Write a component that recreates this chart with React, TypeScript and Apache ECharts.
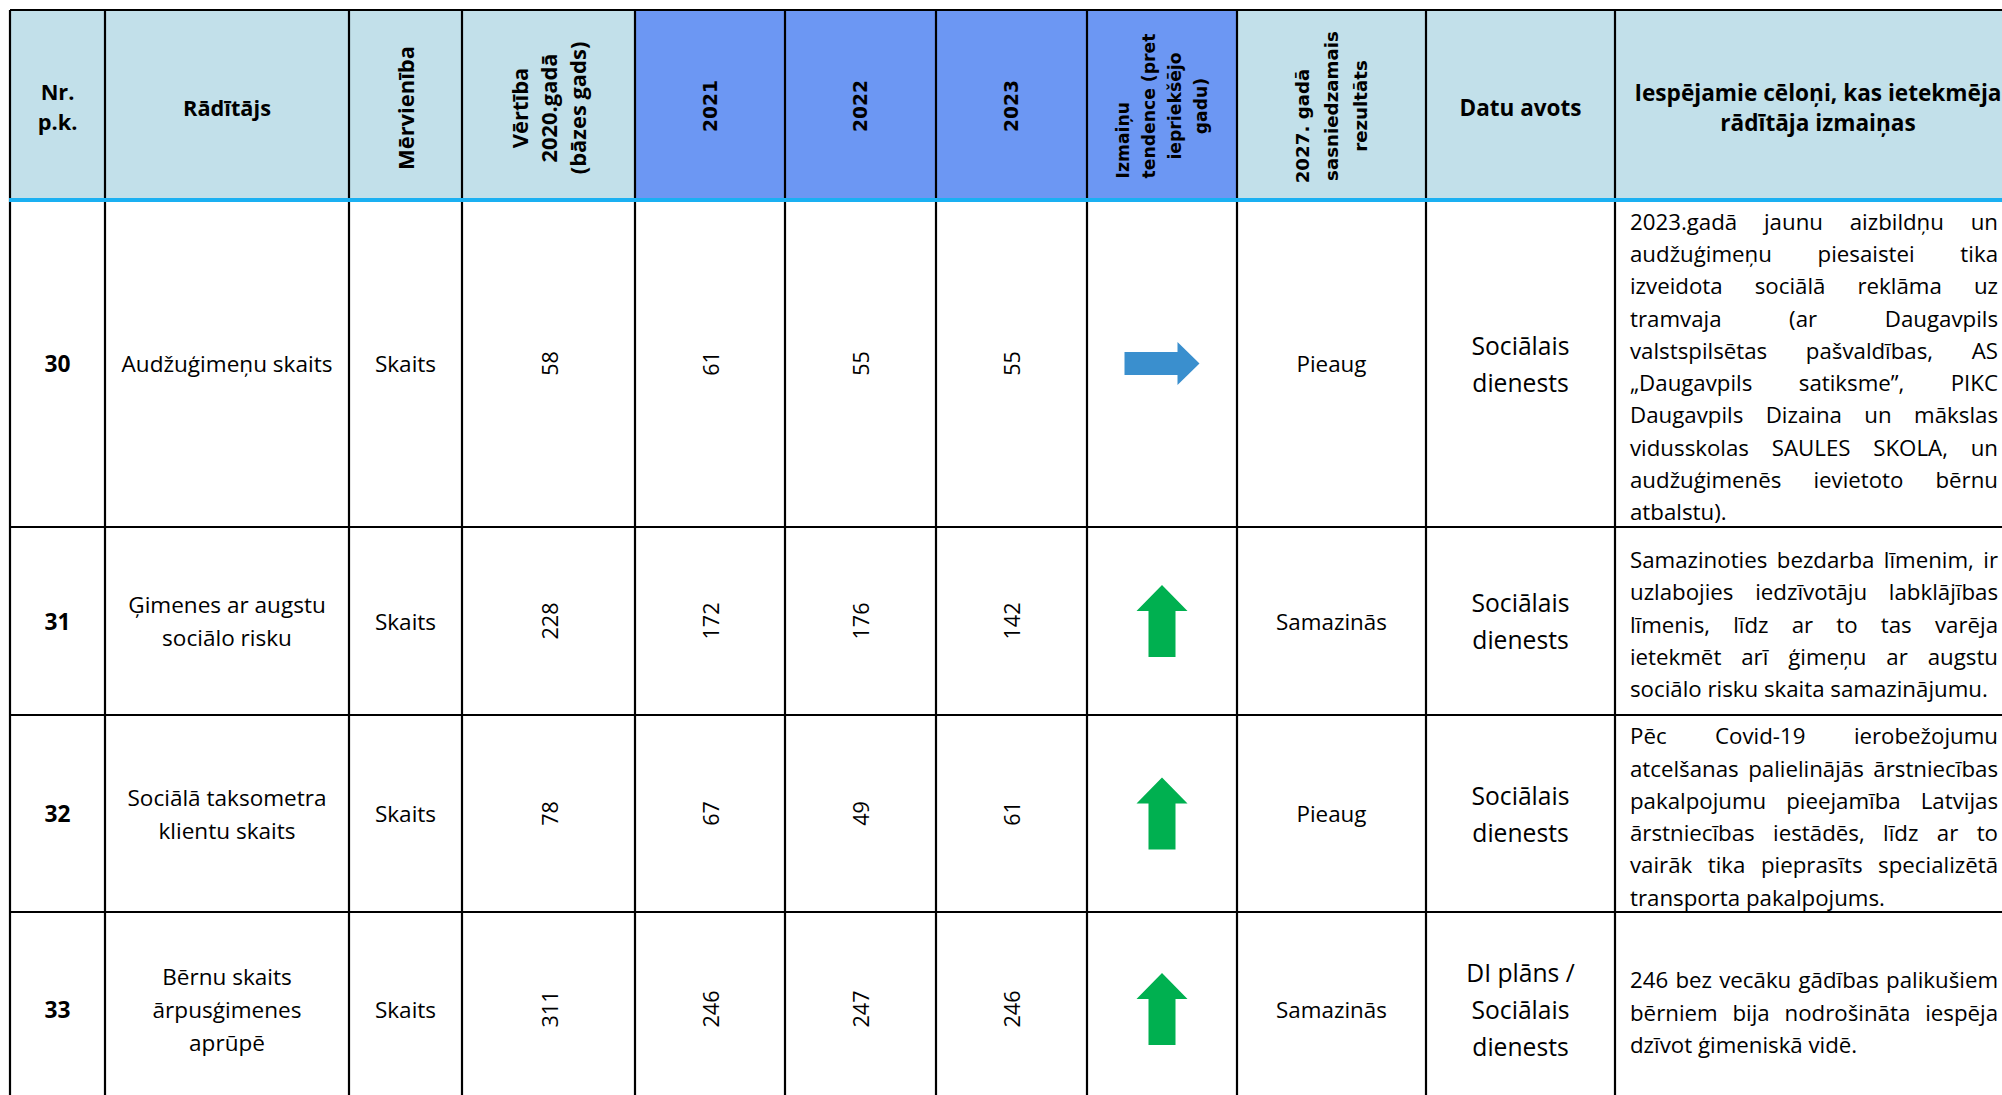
import React, { useEffect, useRef } from 'react';
import * as echarts from 'echarts';

// ---- data ----
const headerLabels = [
  'Nr.\np.k.',
  'Rādītājs',
  'Mērvienība',
  'Vērtība\n2020.gadā\n(bāzes gads)',
  '2021',
  '2022',
  '2023',
  'Izmaiņu\ntendence (pret\niepriekšējo\ngadu)',
  '2027. gadā\nsasniedzamais\nrezultāts',
  'Datu avots',
  'Iespējamie cēloņi, kas ietekmēja\nrādītāja izmaiņas',
];
const rowNumbers = ['30', '31', '32', '33'];
const indicators = [
  'Audžuģimeņu skaits',
  'Ģimenes ar augstu\nsociālo risku',
  'Sociālā taksometra\nklientu skaits',
  'Bērnu skaits\nārpusģimenes\naprūpē',
];
const units = ['Skaits', 'Skaits', 'Skaits', 'Skaits'];
const base2020 = [58, 228, 78, 311];
const values2021 = [61, 172, 67, 246];
const values2022 = [55, 176, 49, 247];
const values2023 = [55, 142, 61, 246];
const trends = ['right', 'up', 'up', 'up'];
const targets2027 = ['Pieaug', 'Samazinās', 'Pieaug', 'Samazinās'];
const sources = [
  'Sociālais\ndienests',
  'Sociālais\ndienests',
  'Sociālais\ndienests',
  'DI plāns /\nSociālais\ndienests',
];
const causes = [
  [
    '2023.gadā jaunu aizbildņu un',
    'audžuģimeņu piesaistei tika',
    'izveidota sociālā reklāma uz',
    'tramvaja (ar Daugavpils',
    'valstspilsētas pašvaldības, AS',
    '„Daugavpils satiksme”, PIKC',
    'Daugavpils Dizaina un mākslas',
    'vidusskolas SAULES SKOLA, un',
    'audžuģimenēs ievietoto bērnu',
    'atbalstu).',
  ],
  [
    'Samazinoties bezdarba līmenim, ir',
    'uzlabojies iedzīvotāju labklājības',
    'līmenis, līdz ar to tas varēja',
    'ietekmēt arī ģimeņu ar augstu',
    'sociālo risku skaita samazinājumu.',
  ],
  [
    'Pēc Covid-19 ierobežojumu',
    'atcelšanas palielinājās ārstniecības',
    'pakalpojumu pieejamība Latvijas',
    'ārstniecības iestādēs, līdz ar to',
    'vairāk tika pieprasīts specializētā',
    'transporta pakalpojums.',
  ],
  [
    '246 bez vecāku gādības palikušiem',
    'bērniem bija nodrošināta iespēja',
    'dzīvot ģimeniskā vidē.',
  ],
];

// ---- layout ----
const COL_X = [10, 105, 349, 462, 635, 785, 936, 1087, 1237, 1426, 1615, 2021];
const ROW_Y = [10, 200, 527, 715, 912, 1106];
const OS = 'Open Sans';
const DV = 'DejaVu Sans';
const LIGHT = '#C2E0EA';
const BLUE = '#6C97F3';
const LINE_BLUE = '#1AB0F2';

export default function App() {
  const ref = useRef<HTMLDivElement>(null);

  useEffect(() => {
    const chart = echarts.init(ref.current!, null, { renderer: 'svg' });
    const ctx = document.createElement('canvas').getContext('2d')!;
    const measure = (t: string, w: number, fam: string, size: number) => {
      ctx.font = `${w} ${size}px "${fam}"`;
      return ctx.measureText(t).width;
    };
    const fit = (t: string, w: number, fam: string, target: number) =>
      (100 * target) / measure(t, w, fam, 100);

    const els: any[] = [];
    const text = (
      t: string,
      x: number,
      y: number,
      size: number,
      fam: string,
      weight: number,
      align: string = 'center',
      rot = false
    ) => {
      els.push({
        type: 'text',
        x,
        y,
        rotation: rot ? Math.PI / 2 : 0,
        silent: true,
        z: 10,
        style: {
          text: t,
          fontSize: size,
          fontFamily: fam,
          fontWeight: weight,
          fill: '#000',
          align,
          verticalAlign: 'middle',
          textAlign: align,
          textVerticalAlign: 'middle',
        },
      });
    };
    const multi = (
      t: string,
      cx: number,
      cy: number,
      lh: number,
      size: number,
      fam: string,
      weight: number,
      rot = false
    ) => {
      const lines = t.split('\n');
      const n = lines.length;
      lines.forEach((ln, i) => {
        const off = (i - (n - 1) / 2) * lh;
        if (rot) text(ln, cx + off, cy, size, fam, weight, 'center', true);
        else text(ln, cx, cy + off, size, fam, weight, 'center', false);
      });
    };

    const colC = (i: number) => (COL_X[i] + COL_X[i + 1]) / 2;
    const rowC = (r: number) => (ROW_Y[r + 1] + ROW_Y[r + 2]) / 2;

    // font sizes fitted to reference text widths
    const fRowNum = fit('30', 700, OS, 26);
    const fBody = fit('Audžuģimeņu skaits', 400, OS, 211);
    const fNum = fit('228', 400, OS, 37);
    const fTarget = fit('Pieaug', 400, OS, 70);
    const fSource = fit('Sociālais', 400, OS, 98);
    const fDesc = fit('sociālo risku skaita samazinājumu.', 400, OS, 358);
    const fHdr = fit('Rādītājs', 700, OS, 88);
    const fHdrDatu = fit('Datu avots', 700, OS, 122);
    const fHdrDesc = fit('Iespējamie cēloņi, kas ietekmēja', 700, OS, 367);
    const fHdrRot = fit('Mērvienība', 700, OS, 124);
    const fYear = fit('2021', 700, DV, 52);
    const fIzm = fit('tendence (pret', 700, DV, 145);
    const f2027 = fit('sasniedzamais', 700, DV, 150);

    // header backgrounds
    els.push({
      type: 'rect',
      shape: { x: COL_X[0], y: ROW_Y[0], width: COL_X[11] - COL_X[0], height: ROW_Y[1] - ROW_Y[0] },
      style: { fill: LIGHT },
      silent: true,
      z: 1,
    });
    els.push({
      type: 'rect',
      shape: { x: COL_X[4], y: ROW_Y[0], width: COL_X[8] - COL_X[4], height: ROW_Y[1] - ROW_Y[0] },
      style: { fill: BLUE },
      silent: true,
      z: 2,
    });

    // header texts
    const hy = (ROW_Y[0] + ROW_Y[1]) / 2;
    multi(headerLabels[0], colC(0), hy + 1, 30, fHdr, OS, 700);
    multi(headerLabels[1], colC(1), hy + 2, 30, fHdr, OS, 700);
    multi(headerLabels[2], colC(2), hy + 3, 30, fHdrRot, OS, 700, true);
    multi(headerLabels[3], colC(3), hy + 3, 29, fHdrRot, OS, 700, true);
    for (let c = 4; c <= 6; c++) multi(headerLabels[c], colC(c), hy + 1, 30, fYear, DV, 700, true);
    {
      const lines = headerLabels[7].split('\n');
      const lh = 26;
      const n = lines.length;
      const cy = hy + 1;
      const w2 = measure(lines[1], 700, DV, fIzm);
      lines.forEach((ln, i) => {
        const x = colC(7) + (i - (n - 1) / 2) * lh;
        if (i === 0) text(ln, x, cy + w2 / 2, fIzm, DV, 700, 'left', true);
        else text(ln, x, cy, fIzm, DV, 700, 'center', true);
      });
    }
    {
      const lines = headerLabels[8].split('\n');
      const lh = 29;
      const n = lines.length;
      const cy = hy + 1;
      lines.forEach((ln, i) => {
        const x = colC(8) + (i - (n - 1) / 2) * lh;
        text(ln, x, cy + (i === 0 ? 20 : 0), f2027, DV, 700, 'center', true);
      });
    }
    multi(headerLabels[9], colC(9), hy + 2, 30, fHdrDatu, OS, 700);
    multi(headerLabels[10], colC(10), hy + 2, 30, fHdrDesc, OS, 700);

    // body
    const DESC_L = 1630;
    const DESC_W = 368;
    const DESC_LH = 32.3;
    for (let r = 0; r < 4; r++) {
      const cy = rowC(r);
      multi(rowNumbers[r], colC(0), cy, 33, fRowNum, OS, 700);
      multi(indicators[r], colC(1), cy, 33, fBody, OS, 400);
      multi(units[r], colC(2), cy, 33, fBody, OS, 400);
      text(String(base2020[r]), colC(3) + 1, cy, fNum, OS, 400, 'center', true);
      text(String(values2021[r]), colC(4), cy, fNum, OS, 400, 'center', true);
      text(String(values2022[r]), colC(5), cy, fNum, OS, 400, 'center', true);
      text(String(values2023[r]), colC(6), cy, fNum, OS, 400, 'center', true);
      // trend arrow
      const ax = colC(7);
      if (trends[r] === 'right') {
        const L = ax - 37.5;
        const pts = [
          [L, cy - 11.5],
          [L + 53, cy - 11.5],
          [L + 53, cy - 21.5],
          [L + 75, cy],
          [L + 53, cy + 21.5],
          [L + 53, cy + 11.5],
          [L, cy + 11.5],
        ];
        els.push({ type: 'polygon', shape: { points: pts }, style: { fill: '#3A8FCE' }, silent: true, z: 5 });
      } else {
        const T = cy - 36;
        const pts = [
          [ax, T],
          [ax + 25.5, T + 26],
          [ax + 13.5, T + 26],
          [ax + 13.5, T + 72],
          [ax - 13.5, T + 72],
          [ax - 13.5, T + 26],
          [ax - 25.5, T + 26],
        ];
        els.push({ type: 'polygon', shape: { points: pts }, style: { fill: '#00B050' }, silent: true, z: 5 });
      }
      multi(targets2027[r], colC(8), cy, 33, fTarget, OS, 400);
      multi(sources[r], colC(9), cy, 37, fSource, OS, 400);

      // justified description
      const lines = causes[r];
      const n = lines.length;
      lines.forEach((ln, i) => {
        const y = cy + 3 + (i - (n - 1) / 2) * DESC_LH;
        const words = ln.split(' ');
        if (i === n - 1 || words.length === 1) {
          text(ln, DESC_L, y, fDesc, OS, 400, 'left');
          return;
        }
        const ws = words.map((w) => measure(w, 400, OS, fDesc));
        const total = ws.reduce((a, b) => a + b, 0);
        const gap = Math.max((DESC_W - total) / (words.length - 1), 3);
        let x = DESC_L;
        words.forEach((w, k) => {
          text(w, x, y, fDesc, OS, 400, 'left');
          x += ws[k] + gap;
        });
      });
    }

    // grid lines
    COL_X.forEach((x) => {
      els.push({
        type: 'line',
        shape: { x1: x, y1: ROW_Y[0], x2: x, y2: ROW_Y[5] },
        style: { stroke: '#000', lineWidth: 2.2 },
        silent: true,
        z: 6,
      });
    });
    ROW_Y.forEach((y, i) => {
      if (i === 1) return;
      els.push({
        type: 'line',
        shape: { x1: COL_X[0], y1: y, x2: COL_X[11], y2: y },
        style: { stroke: '#000', lineWidth: 2.2 },
        silent: true,
        z: 6,
      });
    });
    els.push({
      type: 'line',
      shape: { x1: COL_X[0] - 1, y1: ROW_Y[1], x2: COL_X[11], y2: ROW_Y[1] },
      style: { stroke: LINE_BLUE, lineWidth: 4 },
      silent: true,
      z: 7,
    });

    chart.setOption({
      animation: false,
      backgroundColor: '#ffffff',
      graphic: { elements: els },
    });
    return () => chart.dispose();
  }, []);

  return (
    <div
      ref={ref}
      style={{ position: 'absolute', left: 0, top: 0, width: 2002, height: 1095, background: '#fff' }}
    />
  );
}
